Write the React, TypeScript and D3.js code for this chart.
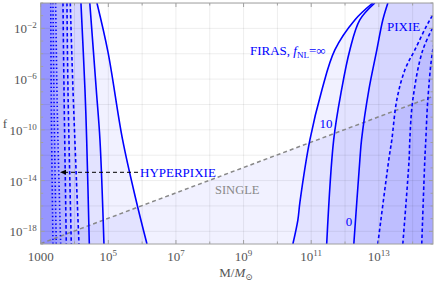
import React from 'react';
import * as d3 from 'd3';

type Pt = [number, number];

// low-mass side (region to the left of each curve is excluded)
const lowHyperpixie: Pt[][] = [
  [[1980, 1], [2080, 6.2e-10], [2310, 1e-19]],
  [[2310, 1], [2520, 6.2e-10], [2890, 1e-19]],
  [[2770, 1], [3140, 6.2e-10], [3900, 1e-19]],
];
const lowPixie: Pt[][] = [
  [[4560, 1], [4890, 1.4e-7], [5720, 1e-19]],
  [[5980, 1], [6410, 1.4e-7], [8040, 1e-19]],
  [[7500, 1], [9020, 1.4e-7], [13550, 1e-19]],
];
const lowFiras: Pt[][] = [
  [[15500, 1], [20400, 1.4e-7], [22900, 1.6e-11], [27400, 1e-19]],
  [[28300, 1], [44100, 1.4e-7], [56600, 1.6e-11], [74300, 1e-19]],
  [[46100, 1], [97500, 1.4e-4], [265000, 1.6e-11], [656000, 3.1e-16], [1.39e6, 1e-19]],
];

// high-mass side, FIRAS for f_NL = inf, 10, 0 (region to the right is excluded)
const highFiras: Pt[][] = [
  [[2.87e10, 1e-19], [4.04e10, 8.1e-18], [4.62e10, 1.8e-16], [9.14e10, 1.6e-11], [2.07e11, 1.4e-7], [5.01e11, 2.0e-4], [1.95e12, 4.6e-2], [6.65e12, 1]],
  [[2.87e11, 1e-19], [4.62e11, 1.6e-11], [7.89e11, 1.4e-7], [1.39e12, 2.0e-4], [2.74e12, 4.6e-2], [7.62e12, 1]],
  [[1.82e12, 1e-19], [2.75e12, 4.4e-13], [3.08e12, 1.6e-11], [5.07e12, 1.4e-7], [8.73e12, 2.0e-4], [1.31e13, 4.6e-2], [1.85e13, 1]],
];
const highPixie: Pt[][] = [
  [[9.33e12, 1e-19], [1.97e13, 4.4e-13], [2.42e13, 1.6e-11], [3.4e13, 2.3e-8], [5.87e13, 5.2e-6], [1.16e14, 2.0e-4], [3.21e14, 4.6e-2], [6.35e14, 0.7]],
  [[5.12e13, 1e-19], [7.85e13, 4.4e-13], [8.24e13, 1.6e-11], [1.01e14, 2.3e-8], [2.0e14, 2.0e-4], [4.84e14, 3.2e-2]],
  [[1.86e14, 1e-19], [2.29e14, 4.4e-13], [2.45e14, 1.6e-11], [2.81e14, 2.3e-8], [3.94e14, 2.0e-4], [6.35e14, 4.6e-2]],
];

const singleLine: Pt[] = [[1e3, 1.07e-19], [4e14, 4.3e-8]];

const xTicks = [1e3, 1e5, 1e7, 1e9, 1e11, 1e13];
const yTicks = [1e-2, 1e-6, 1e-10, 1e-14, 1e-18];
const xGrid = [1e3, 1e4, 1e5, 1e6, 1e7, 1e8, 1e9, 1e10, 1e11, 1e12, 1e13, 1e14];
const yGrid = [1, 1e-2, 1e-4, 1e-6, 1e-8, 1e-10, 1e-12, 1e-14, 1e-16, 1e-18];
const yMinor = [1e-1, 1e-3, 1e-5, 1e-7, 1e-9, 1e-11, 1e-13, 1e-15, 1e-17, 1e-19];

export default class App extends React.Component {
  svgRef = React.createRef<SVGSVGElement>();

  sizing = {
    width: 436,
    height: 281,
    left: 40.7,
    right: 433,
    top: 3,
    bottom: 244,
  };

  font = '"Liberation Serif", "DejaVu Serif", serif';
  blue = '#0000ff';

  setupDom(): void {
    const s = this.sizing;
    const svg = d3.select(this.svgRef.current);
    svg.selectAll('*').remove();

    const xScale = d3.scaleLog().domain([1e3, 4e14]).range([s.left, s.right]);
    const yScale = d3.scaleLog().domain([1e-19, 1]).range([s.bottom, s.top]);

    svg.append('clipPath').attr('id', 'plot-clip')
      .append('rect')
      .attr('x', s.left).attr('y', s.top)
      .attr('width', s.right - s.left).attr('height', s.bottom - s.top);

    const plot = svg.append('g').attr('clip-path', 'url(#plot-clip)');

    const line = d3.line<Pt>()
      .x(d => xScale(d[0]))
      .y(d => yScale(d[1]))
      .curve(d3.curveCatmullRom);

    const fillArea = (pts: Pt[], side: 'left' | 'right'): string => {
      const xEdge = side === 'left' ? s.left - 20 : s.right + 20;
      const y0 = yScale(pts[0][1]);
      const y1 = yScale(pts[pts.length - 1][1]);
      return `${line(pts)}L${xEdge},${y1}L${xEdge},${y0}Z`;
    };

    const fills = plot.append('g')
      .attr('fill', this.blue)
      .attr('fill-opacity', 0.055);

    [...lowHyperpixie, ...lowPixie, ...lowFiras].forEach(c => {
      fills.append('path').attr('d', fillArea(c, 'left'));
    });
    [...highFiras, ...highPixie].forEach(c => {
      fills.append('path').attr('d', fillArea(c, 'right'));
    });
    // region below the SINGLE line
    fills.append('path')
      .attr('d', `${line(singleLine)}L${s.right + 20},${s.bottom + 20}L${s.left - 20},${s.bottom + 20}Z`);

    // grid
    const grid = plot.append('g').attr('stroke', '#000').attr('stroke-opacity', 0.07).attr('stroke-width', 1);
    xGrid.forEach(v => {
      grid.append('line').attr('x1', xScale(v)).attr('x2', xScale(v)).attr('y1', s.top).attr('y2', s.bottom);
    });
    yGrid.forEach(v => {
      grid.append('line').attr('x1', s.left).attr('x2', s.right).attr('y1', yScale(v)).attr('y2', yScale(v));
    });

    // SINGLE line
    plot.append('path')
      .attr('d', d3.line<Pt>().x(d => xScale(d[0])).y(d => yScale(d[1]))(singleLine) as string)
      .attr('fill', 'none')
      .attr('stroke', '#888')
      .attr('stroke-width', 1.5)
      .attr('stroke-dasharray', '4,3');

    const drawCurves = (curves: Pt[][], dash: string | null) => {
      curves.forEach(c => {
        const p = plot.append('path')
          .attr('d', line(c) as string)
          .attr('fill', 'none')
          .attr('stroke', this.blue)
          .attr('stroke-width', 1.6);
        if (dash) p.attr('stroke-dasharray', dash);
      });
    };
    drawCurves(lowHyperpixie, '1.4,2.4');
    drawCurves(lowPixie, '3.5,2.5');
    drawCurves(lowFiras, null);
    drawCurves(highFiras, null);
    drawCurves(highPixie, '3.5,2.5');

    // frame and ticks
    const frame = svg.append('g').attr('stroke', '#a0a0a0').attr('fill', 'none');
    frame.append('rect')
      .attr('x', s.left).attr('y', s.top)
      .attr('width', s.right - s.left).attr('height', s.bottom - s.top);
    xGrid.forEach(v => {
      const len = xTicks.includes(v) ? 4 : 2.5;
      frame.append('line').attr('x1', xScale(v)).attr('x2', xScale(v)).attr('y1', s.bottom).attr('y2', s.bottom - len);
      frame.append('line').attr('x1', xScale(v)).attr('x2', xScale(v)).attr('y1', s.top).attr('y2', s.top + len);
    });
    [...yGrid, ...yMinor].forEach(v => {
      const len = yTicks.includes(v) ? 4 : 2.5;
      frame.append('line').attr('x1', s.left).attr('x2', s.left + len).attr('y1', yScale(v)).attr('y2', yScale(v));
      frame.append('line').attr('x1', s.right).attr('x2', s.right - len).attr('y1', yScale(v)).attr('y2', yScale(v));
    });

    // tick labels
    const labels = svg.append('g')
      .attr('font-family', this.font)
      .attr('font-size', 13)
      .attr('fill', '#555');

    xTicks.forEach(v => {
      const t = labels.append('text')
        .attr('x', xScale(v))
        .attr('y', s.bottom + 17)
        .attr('text-anchor', 'middle');
      const p = Math.round(Math.log10(v));
      if (p === 3) {
        t.text('1000');
      } else {
        t.append('tspan').text('10');
        t.append('tspan').attr('dy', -5).attr('font-size', 9).text(`${p}`);
      }
    });

    yTicks.forEach(v => {
      const p = Math.round(Math.log10(v));
      const t = labels.append('text')
        .attr('x', s.left - 4)
        .attr('y', yScale(v) + 5)
        .attr('text-anchor', 'end');
      t.append('tspan').text('10');
      t.append('tspan').attr('dy', -5).attr('font-size', 9).text(`\u2212${-p}`);
    });

    // axis titles
    labels.append('text')
      .attr('x', 5).attr('y', 128)
      .attr('text-anchor', 'middle')
      .text('f');

    const xTitle = labels.append('text')
      .attr('x', 236).attr('y', 277)
      .attr('text-anchor', 'middle');
    xTitle.append('tspan').text('M/');
    xTitle.append('tspan').attr('font-style', 'italic').text('M');
    xTitle.append('tspan').attr('dy', 3).attr('font-size', 9).text('\u2299');

    // curve annotations
    const notes = svg.append('g')
      .attr('font-family', this.font)
      .attr('font-size', 13)
      .attr('fill', this.blue);

    const firas = notes.append('text').attr('x', 250).attr('y', 55);
    firas.append('tspan').text('FIRAS, ');
    firas.append('tspan').attr('font-style', 'italic').text('f');
    firas.append('tspan').attr('dy', 3).attr('font-size', 9).text('NL');
    firas.append('tspan').attr('dy', -3).text('=\u221e');

    notes.append('text').attr('x', 326).attr('y', 128).attr('text-anchor', 'middle').text('10');
    notes.append('text').attr('x', 349).attr('y', 226).attr('text-anchor', 'middle').text('0');
    notes.append('text').attr('x', 387).attr('y', 31).text('PIXIE');
    notes.append('text').attr('x', 140).attr('y', 177).text('HYPERPIXIE');

    svg.append('text')
      .attr('x', 215).attr('y', 194)
      .attr('font-family', this.font)
      .attr('font-size', 12.5)
      .attr('fill', '#888')
      .text('SINGLE');

    // arrow to the HYPERPIXIE curves
    svg.append('line')
      .attr('x1', 138).attr('x2', 64)
      .attr('y1', 172.3).attr('y2', 172.3)
      .attr('stroke', '#000')
      .attr('stroke-width', 1)
      .attr('stroke-dasharray', '4,3');
    svg.append('path')
      .attr('d', 'M60,172.3L66,169.8L66,174.8Z')
      .attr('fill', '#000');
  }

  componentDidMount(): void {
    this.setupDom();
  }

  render(): React.ReactNode {
    const s = this.sizing;
    return (
      <svg
        ref={this.svgRef}
        width={s.width}
        height={s.height}
        style={{position: 'fixed', left: 0, top: 0, background: '#fff'}}
      />
    );
  }
}
